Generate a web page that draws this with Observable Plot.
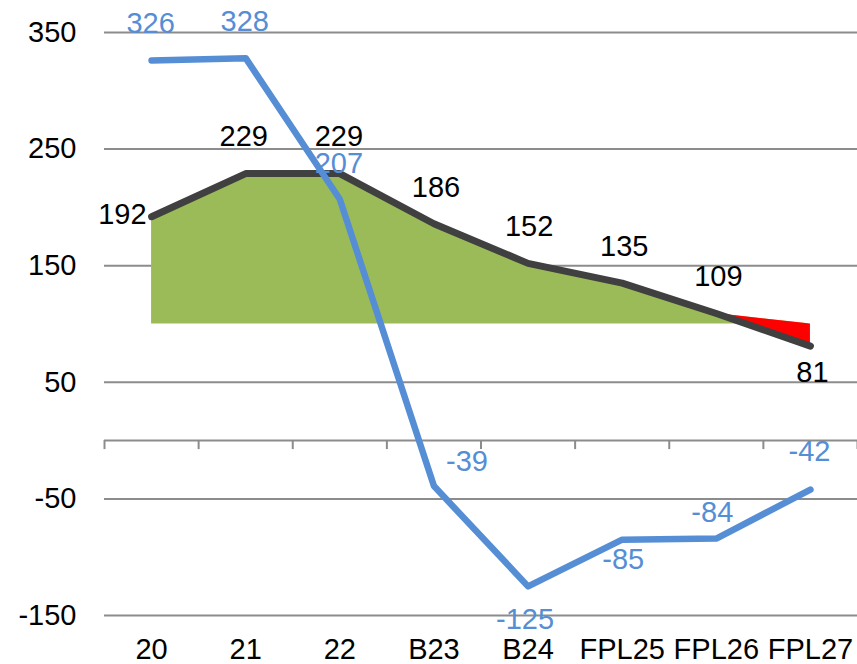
<!DOCTYPE html>
<html>
<head>
<meta charset="utf-8">
<script src="https://cdn.jsdelivr.net/npm/d3@7"></script>
<script src="https://cdn.jsdelivr.net/npm/@observablehq/plot@0.6"></script>
<style>
  html, body { margin: 0; padding: 0; background: #fff; }
  #chart svg { display: block; }
</style>
</head>
<body>
<div id="chart"></div>
<script>
// ---- data ----
const categories = ["20", "21", "22", "B23", "B24", "FPL25", "FPL26", "FPL27"];
const blueSeries = [326, 328, 207, -39, -125, -85, -84, -42];
const blackSeries = [192, 229, 229, 186, 152, 135, 109, 81];
const threshold = 100;
const yTickValues = [350, 250, 150, 50, -50, -150];

// ---- label placement (style) ----
const blackLabelStyle = [
  {dx: -5, dy: -2, anchor: "end"}, {dx: -2, dy: -37}, {dx: -1, dy: -37}, {dx: 2, dy: -36},
  {dx: 1, dy: -37}, {dx: 2, dy: -36}, {dx: 2, dy: -37}, {dx: 2, dy: 27}
];
const blueLabelStyle = [
  {dx: -1, dy: -37}, {dx: -1, dy: -36}, {dx: -1, dy: -36}, {dx: 33, dy: -24},
  {dx: -3, dy: 33}, {dx: 1, dy: 20}, {dx: -4, dy: -26}, {dx: -1, dy: -38}
];

const BLUE = "#558ED5", DARK = "#404040", GREEN = "#9BBB59", RED = "#FF0000", GRID = "#8C8C8C";
const FONT = "Liberation Sans, Arial, Helvetica, sans-serif";
const FS = 29;

// tables built from the arrays
const blueData = blueSeries.map((v, i) => ({i, v}));
const blackData = blackSeries.map((v, i) => ({i, v}));
const boundaries = d3.range(categories.length + 1).map(k => k - 0.5);

const labelMarks = [];
blackData.forEach((d, k) => {
  const s = blackLabelStyle[k];
  labelMarks.push(Plot.text([d], {
    x: "i", y: "v", text: d => String(d.v), dx: s.dx, dy: s.dy,
    textAnchor: s.anchor || "middle", fill: "#000", fontSize: FS
  }));
});
blueData.forEach((d, k) => {
  const s = blueLabelStyle[k];
  labelMarks.push(Plot.text([d], {
    x: "i", y: "v", text: d => String(d.v), dx: s.dx, dy: s.dy,
    textAnchor: s.anchor || "middle", fill: BLUE, fontSize: FS
  }));
});

const chart = Plot.plot({
  width: 857,
  height: 664,
  marginLeft: 104,
  marginRight: 0,
  marginTop: 32,
  marginBottom: 49,
  style: {fontFamily: FONT, fontSize: FS + "px", color: "#000", background: "#fff", overflow: "visible"},
  x: {type: "linear", domain: [-0.5, categories.length - 0.5], label: null},
  y: {domain: [-150, 350], label: null},
  marks: [
    Plot.ruleY(yTickValues, {stroke: GRID, strokeWidth: 2}),
    // green: between threshold and the line (clipped at threshold)
    Plot.areaY(blackData, {x: "i", y1: threshold, y2: d => Math.max(d.v, threshold), fill: GREEN}),
    // red: shortfall below threshold, between the line and max(line, threshold)
    Plot.areaY(blackData, {x: "i", y1: "v", y2: d => Math.max(d.v, threshold), fill: RED}),
    Plot.ruleY([0], {stroke: GRID, strokeWidth: 2}),
    Plot.ruleX(boundaries, {y1: 0, y2: 0, insetBottom: -9, stroke: GRID, strokeWidth: 2}),
    Plot.axisY(yTickValues, {tickSize: 0, tickPadding: 28, fontSize: FS, label: null, tickFormat: d => String(d)}),
    Plot.axisX(d3.range(categories.length), {tickSize: 0, tickPadding: 23, fontSize: FS, label: null, tickFormat: i => categories[i]}),
    Plot.line(blackData, {x: "i", y: "v", stroke: DARK, strokeWidth: 7, strokeLinejoin: "round", strokeLinecap: "round"}),
    Plot.line(blueData, {x: "i", y: "v", stroke: BLUE, strokeWidth: 6.5, strokeLinejoin: "round", strokeLinecap: "round"}),
    ...labelMarks
  ]
});
document.getElementById("chart").appendChild(chart);
</script>
</body>
</html>
